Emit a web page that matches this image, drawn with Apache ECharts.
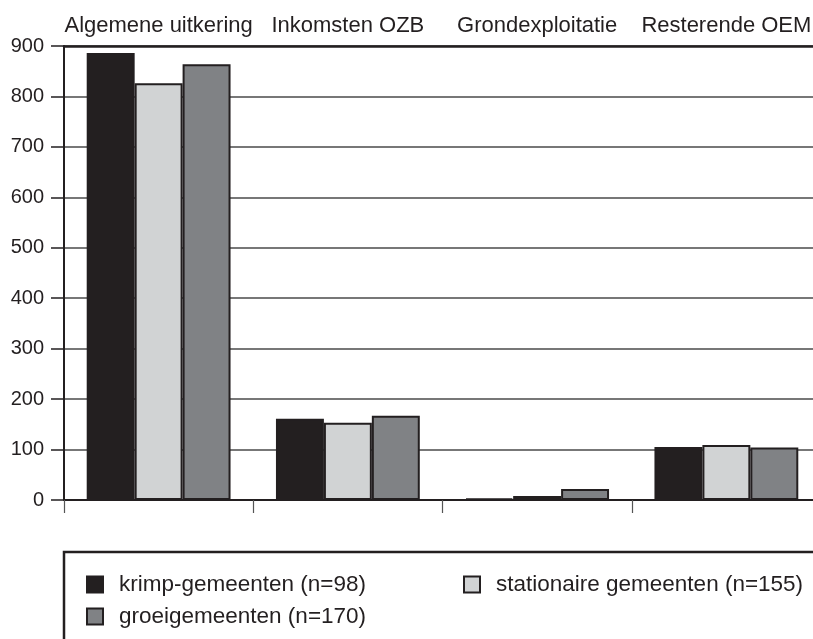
<!DOCTYPE html>
<html>
<head>
<meta charset="utf-8">
<script src="https://cdn.jsdelivr.net/npm/echarts@6/dist/echarts.min.js"></script>
<style>html,body{margin:0;padding:0;background:#fff}#c{width:813px;height:639px}</style>
</head>
<body>
<div id="c"></div>
<script>
var categories = ['Algemene uitkering', 'Inkomsten OZB', 'Grondexploitatie', 'Resterende OEM'];
var seriesNames = ['krimp-gemeenten (n=98)', 'stationaire gemeenten (n=155)', 'groeigemeenten (n=170)'];
var krimp = [886, 161, 3, 105];
var stationair = [826, 153, 8, 109];
var groei = [864, 167, 22, 104];
var yTicks = { min: 0, max: 900, interval: 100 };

var ink = '#231f20';
var colors = ['#231f20', '#d1d3d4', '#808285'];
var font = 'Liberation Sans, Arial, sans-serif';

var chart = echarts.init(document.getElementById('c'));
function bar(name, data, color) {
  return {
    name: name, type: 'bar', data: data, xAxisIndex: 0, yAxisIndex: 0,
    barGap: '0%', barCategoryGap: '24%',
    itemStyle: { color: color, borderColor: ink, borderWidth: 2 }
  };
}
chart.setOption({
  animation: false,
  backgroundColor: '#fff',
  grid: { left: 64, top: 46, width: 757, height: 454, containLabel: false, outerBoundsMode: 'none' },
  xAxis: [
    { type: 'category', data: categories, position: 'bottom',
      axisLine: { lineStyle: { color: ink, width: 2 } },
      axisTick: { show: true, length: 13, lineStyle: { color: '#555', width: 1.2 } },
      axisLabel: { show: false } },
    { type: 'category', data: categories, position: 'top',
      axisLine: { show: true, lineStyle: { color: ink, width: 2.5 } },
      axisTick: { show: false },
      axisLabel: { show: true, color: ink, fontSize: 22, fontFamily: font, margin: 9, interval: 0 } }
  ],
  yAxis: {
    type: 'value', min: yTicks.min, max: yTicks.max, interval: yTicks.interval,
    axisLine: { show: true, lineStyle: { color: ink, width: 2 } },
    axisTick: { show: true, length: 13, lineStyle: { color: ink, width: 1.5 } },
    axisLabel: { color: ink, fontSize: 20, fontFamily: font, margin: 20 },
    splitLine: { show: true, lineStyle: { color: '#4a4a4a', width: 1.5 } }
  },
  legend: [
    { data: [seriesNames[0], seriesNames[2]], orient: 'vertical', left: 81, top: 568,
      itemWidth: 16, itemHeight: 16, itemGap: 9, icon: 'rect',
      textStyle: { color: ink, fontSize: 22.5, fontFamily: font, lineHeight: 22, padding: [0, 0, 0, 11] } },
    { data: [seriesNames[1]], orient: 'vertical', left: 458, top: 568,
      itemWidth: 16, itemHeight: 16, itemGap: 9, icon: 'rect',
      textStyle: { color: ink, fontSize: 22.5, fontFamily: font, lineHeight: 22, padding: [0, 0, 0, 11] } }
  ],
  graphic: [
    { type: 'rect', shape: { x: 64, y: 552, width: 800, height: 150 },
      style: { fill: 'none', stroke: ink, lineWidth: 2.5 }, z: 10 }
  ],
  series: [
    bar(seriesNames[0], krimp, colors[0]),
    bar(seriesNames[1], stationair, colors[1]),
    bar(seriesNames[2], groei, colors[2])
  ]
});
</script>
</body>
</html>
